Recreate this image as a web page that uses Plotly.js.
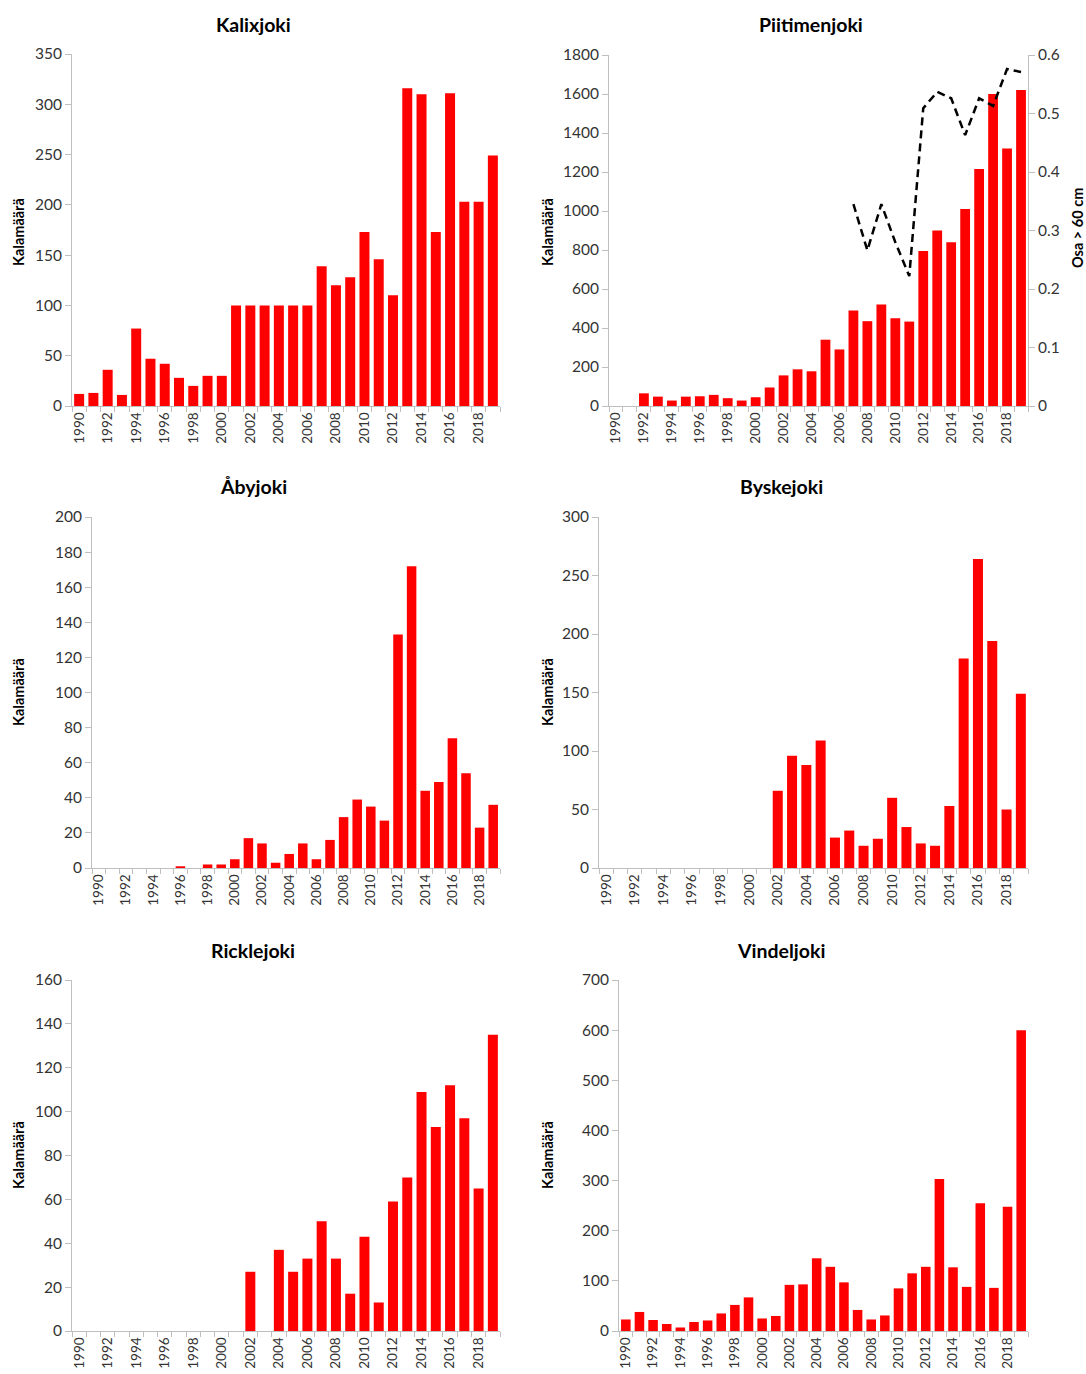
<!DOCTYPE html>
<html>
<head>
<meta charset="utf-8">
<script src="https://cdn.plot.ly/plotly-3.0.1.min.js"></script>
<style>html,body{margin:0;padding:0;background:#fff;}#chart{width:1086px;height:1374px;}</style>
</head>
<body>
<div id="chart"></div>
<script>
const years = [1990,1991,1992,1993,1994,1995,1996,1997,1998,1999,2000,2001,2002,2003,2004,2005,2006,2007,2008,2009,2010,2011,2012,2013,2014,2015,2016,2017,2018,2019];
const tickYears = [1990,1992,1994,1996,1998,2000,2002,2004,2006,2008,2010,2012,2014,2016,2018];

const kalixjoki = [12,13,36,11,77,47,42,28,20,30,30,100,100,100,100,100,100,139,120,128,173,146,110,316,310,173,311,203,203,249];
const piitimenjoki = [0,0,65,48,28,48,50,57,40,28,45,95,157,188,178,340,290,490,435,520,450,433,795,900,840,1010,1215,1600,1320,1620];
const piitiShareYears = [2007,2008,2009,2010,2011,2012,2013,2014,2015,2016,2017,2018,2019];
const piitiShare = [0.345,0.266,0.345,0.28,0.222,0.509,0.537,0.526,0.463,0.526,0.513,0.576,0.571];
const abyjoki = [0,0,0,0,0,0,1,0,2,2,5,17,14,3,8,14,5,16,29,39,35,27,133,172,44,49,74,54,23,36];
const byskejoki = [0,0,0,0,0,0,0,0,0,0,0,0,66,96,88,109,26,32,19,25,60,35,21,19,53,179,264,194,50,149];
const ricklejoki = [0,0,0,0,0,0,0,0,0,0,0,0,27,0,37,27,33,50,33,17,43,13,59,70,109,93,112,97,65,135];
const vindeljoki = [23,38,22,14,7,18,21,35,52,67,25,30,92,93,145,128,97,42,23,31,85,115,128,303,127,88,255,86,248,600];

const panelTitles = ["Kalixjoki","Piitimenjoki","Åbyjoki","Byskejoki","Ricklejoki","Vindeljoki"];
const yTitle = "Kalamäärä";
const y2Title = "Osa > 60 cm";

const W = 1086, H = 1374;
const FONT = "Lato, 'Liberation Sans', sans-serif";
const AXC = "#bfbfbf";
const TXT = "#333333";

const panels = [
  {data: kalixjoki, px:[72,500], py:[54,406], max:350, dtick:50},
  {data: piitimenjoki, px:[609,1028], py:[55,406], max:1800, dtick:200},
  {data: abyjoki, px:[92,500], py:[517,868], max:200, dtick:20},
  {data: byskejoki, px:[599,1028], py:[517,868], max:300, dtick:50},
  {data: ricklejoki, px:[72,500], py:[980,1331], max:160, dtick:20},
  {data: vindeljoki, px:[619,1028], py:[980,1331], max:700, dtick:100}
];
const titlePos = [[253,25],[811,25],[253,487],[781,487],[253,950],[781,950]];
const yTitlePos = [[18,232],[547,232],[18,692],[547,692],[18,1155],[547,1155]];

const traces = [];
const layout = {
  width: W, height: H,
  margin: {l:0,r:0,t:0,b:0},
  paper_bgcolor: "#fff", plot_bgcolor: "#fff",
  showlegend: false,
  font: {family: FONT, color: TXT},
  annotations: [],
  bargap: 0.3
};

panels.forEach((p, i) => {
  const n = i + 1;
  const xa = n === 1 ? "x" : "x" + n;
  const ya = n === 1 ? "y" : "y" + n;
  traces.push({
    type: "bar", x: years, y: p.data, xaxis: xa, yaxis: ya,
    marker: {color: "#ff0000"}, hoverinfo: "x+y"
  });
  const xkey = n === 1 ? "xaxis" : "xaxis" + n;
  const ykey = n === 1 ? "yaxis" : "yaxis" + n;
  layout[xkey] = {
    domain: [p.px[0]/W, p.px[1]/W],
    anchor: ya,
    range: [1989.5, 2019.5],
    tickmode: "array", tickvals: tickYears, ticktext: tickYears.map(String),
    tickangle: -90, ticks: "", ticklen: 0,
    tickfont: {size: 13.5, family: FONT, color: TXT},
    showline: true, linecolor: AXC, linewidth: 1,
    showgrid: false, zeroline: false,
    minor: {ticks: "outside", tick0: 1989.5, dtick: 1, ticklen: 5, tickcolor: AXC, tickwidth: 1, showgrid: false},
    fixedrange: true
  };
  layout[ykey] = {
    domain: [1 - p.py[1]/H, 1 - p.py[0]/H],
    anchor: xa,
    range: [0, p.max], dtick: p.dtick, tick0: 0,
    ticks: "outside", ticklen: 6, tickcolor: AXC,
    tickfont: {size: 15.5, family: FONT, color: TXT},
    showline: true, linecolor: AXC, linewidth: 1,
    showgrid: false, zeroline: false,
    fixedrange: true
  };
  layout.annotations.push({
    text: "<b>" + panelTitles[i] + "</b>", xref: "paper", yref: "paper",
    x: titlePos[i][0]/W, y: 1 - titlePos[i][1]/H, xanchor: "center", yanchor: "middle",
    showarrow: false, font: {size: 19.5, family: FONT, color: "#000"}
  });
  layout.annotations.push({
    text: "<b>" + yTitle + "</b>", xref: "paper", yref: "paper",
    x: yTitlePos[i][0]/W, y: 1 - yTitlePos[i][1]/H, xanchor: "center", yanchor: "middle",
    textangle: -90, showarrow: false, font: {size: 14.5, family: FONT, color: "#000"}
  });
});

traces.push({
  type: "scatter", mode: "lines", x: piitiShareYears, y: piitiShare,
  xaxis: "x2", yaxis: "y7",
  line: {color: "#000", width: 2.5, dash: "8px,5px"}, hoverinfo: "x+y"
});
layout.yaxis7 = {
  overlaying: "y2", side: "right", anchor: "x2",
  range: [0, 0.6], dtick: 0.1, tick0: 0,
  ticks: "outside", ticklen: 6, tickcolor: AXC,
  tickfont: {size: 15.5, family: FONT, color: TXT},
  showline: true, linecolor: AXC, linewidth: 1,
  showgrid: false, zeroline: false, fixedrange: true
};
layout.annotations.push({
  text: "<b>" + y2Title + "</b>", xref: "paper", yref: "paper",
  x: 1078/W, y: 1 - 228/H, xanchor: "center", yanchor: "middle",
  textangle: -90, showarrow: false, font: {size: 14.5, family: FONT, color: "#000"}
});

Plotly.newPlot("chart", traces, layout, {staticPlot: true, displayModeBar: false});
</script>
</body>
</html>
